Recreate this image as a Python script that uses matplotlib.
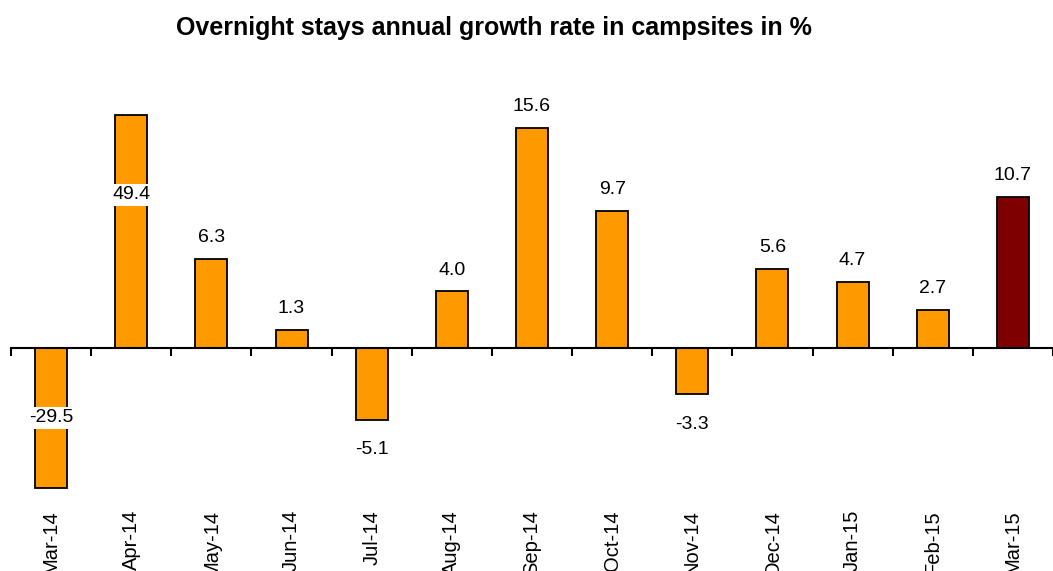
import numpy as np
import matplotlib.pyplot as plt

plt.rcParams['font.family'] = ['Liberation Sans', 'DejaVu Sans']

months = ['Mar-14', 'Apr-14', 'May-14', 'Jun-14', 'Jul-14', 'Aug-14', 'Sep-14',
          'Oct-14', 'Nov-14', 'Dec-14', 'Jan-15', 'Feb-15', 'Mar-15']
growth = [-29.5, 49.4, 6.3, 1.3, -5.1, 4.0, 15.6, 9.7, -3.3, 5.6, 4.7, 2.7, 10.7]

orange = '#FF9900'
dark_red = '#7F0000'
y_lo, y_hi = -9.93, 16.5

fig = plt.figure(figsize=(10.53, 5.71), dpi=100)
ax = fig.add_axes([11 / 1053, 1 - 488 / 571, 1 - 11 / 1053, 373 / 571])

x = np.arange(len(months))
colors = [orange] * (len(months) - 1) + [dark_red]
# bars beyond the scale are cut at the plot edge (broken axis look)
shown = np.clip(growth, y_lo, y_hi)
ax.bar(x, shown, width=0.4, color=colors, edgecolor='black', linewidth=1.3,
       zorder=2, clip_on=False)

ax.set_xlim(-0.5, 12.36)
ax.set_ylim(y_lo, y_hi)

for xi, v in zip(x, growth):
    label = f'{v:.1f}'
    if v > y_hi:
        ax.text(xi, 10.85, label, ha='center', va='center', fontsize=14,
                bbox=dict(facecolor='white', edgecolor='none', pad=2), zorder=3)
    elif v < y_lo:
        ax.text(xi, -4.96, label, ha='center', va='center', fontsize=14,
                bbox=dict(facecolor='white', edgecolor='none', pad=2), zorder=3)
    elif v >= 0:
        ax.text(xi, v + 0.9, label, ha='center', va='bottom', fontsize=14)
    else:
        ax.text(xi, v - 1.5, label, ha='center', va='top', fontsize=14)

for s in ['top', 'right', 'left']:
    ax.spines[s].set_visible(False)
ax.spines['bottom'].set_position(('data', 0))
ax.spines['bottom'].set_linewidth(1.5)
ax.set_xticks(np.arange(-0.5, len(months) + 0.5, 1))
ax.set_xticklabels([])
ax.tick_params(axis='x', direction='out', length=6, width=1.5)
ax.set_yticks([])

trans = ax.get_xaxis_transform()
for xi, m in zip(x, months):
    ax.text(xi, -0.059, m, transform=trans, rotation=90, ha='center', va='top',
            fontsize=14.5)

fig.text(494 / 1053, 1 - 28 / 571, 'Overnight stays annual growth rate in campsites in %',
         ha='center', va='center', fontsize=18, fontweight='bold')

fig.savefig('out.png', dpi=100)
